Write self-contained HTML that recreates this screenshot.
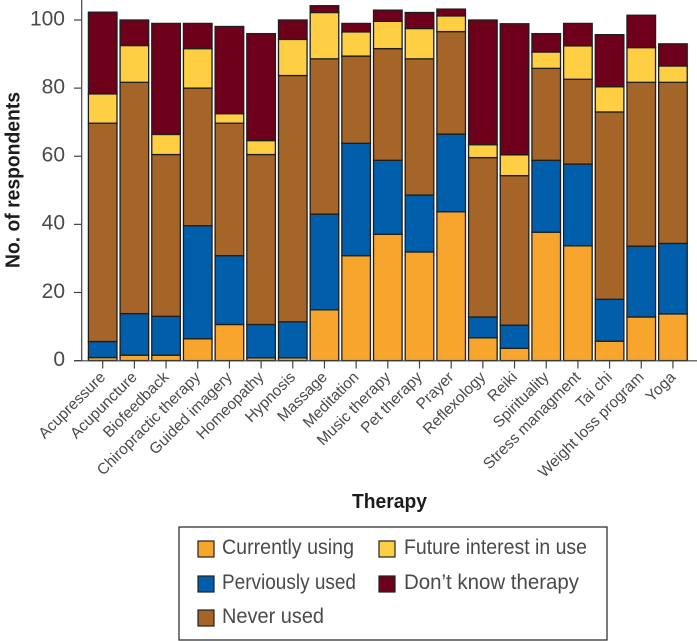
<!DOCTYPE html>
<html lang="en">
<head>
<meta charset="utf-8">
<title>Therapy use by respondents</title>
<style>
html,body{margin:0;padding:0;background:#fff;}
svg{display:block;font-family:"Liberation Sans",sans-serif;}
.tick-label{font-size:21px;fill:#4a4a4a;}
.cat-label{font-size:15.5px;fill:#4a4a4a;}
.axis-title{font-size:20px;font-weight:bold;fill:#1c1c1c;}
.legend-text{font-size:21px;fill:#4a4a4a;}
</style>
</head>
<body>
<svg id="chart" xmlns="http://www.w3.org/2000/svg" width="697" height="641" viewBox="0 0 697 641">
  <g id="bars"></g>
  <g id="axes"></g>
  <text class="axis-title" x="352" y="508" textLength="75" lengthAdjust="spacingAndGlyphs">Therapy</text>
  <text class="axis-title" transform="translate(19.5,268) rotate(-90)" textLength="176" lengthAdjust="spacingAndGlyphs">No. of respondents</text>
  <g>
    <rect x="179" y="527" width="428" height="113" fill="#fff" stroke="#333" stroke-width="1.3"/>
    <g>
      <rect x="198" y="541" width="16" height="16" fill="#f7a52c" stroke="#222" stroke-width="1.2"/>
      <text class="legend-text" x="222" y="554" textLength="132" lengthAdjust="spacingAndGlyphs">Currently using</text>
    </g>
    <g>
      <rect x="198" y="576" width="16" height="16" fill="#005eaa" stroke="#222" stroke-width="1.2"/>
      <text class="legend-text" x="222" y="589" textLength="134" lengthAdjust="spacingAndGlyphs">Perviously used</text>
    </g>
    <g>
      <rect x="198" y="610" width="16" height="16" fill="#a56428" stroke="#222" stroke-width="1.2"/>
      <text class="legend-text" x="222" y="623" textLength="102" lengthAdjust="spacingAndGlyphs">Never used</text>
    </g>
    <g>
      <rect x="379" y="541" width="16" height="16" fill="#fecf43" stroke="#222" stroke-width="1.2"/>
      <text class="legend-text" x="404" y="554" textLength="183" lengthAdjust="spacingAndGlyphs">Future interest in use</text>
    </g>
    <g>
      <rect x="379" y="576" width="16" height="16" fill="#6e001b" stroke="#222" stroke-width="1.2"/>
      <text class="legend-text" x="404" y="589" textLength="175" lengthAdjust="spacingAndGlyphs">Don’t know therapy</text>
    </g>
  </g>
</svg>
<script>
var categories = ["Acupressure","Acupuncture","Biofeedback","Chiropractic therapy","Guided imagery","Homeopathy","Hypnosis","Massage","Meditation","Music therapy","Pet therapy","Prayer","Reflexology","Reiki","Spirituality","Stress managment","Tai chi","Weight loss program","Yoga"];
var currentlyUsing = [0.9,1.6,1.6,6.4,10.6,0.8,0.8,14.9,30.8,37.1,31.9,43.7,6.7,3.6,37.7,33.7,5.7,12.8,13.7];
var previouslyUsed = [4.7,12.2,11.4,33.2,20.2,9.8,10.6,28.1,33,21.7,16.7,22.8,6.1,6.8,21.1,24,12.3,20.8,20.7];
var neverUsed = [64.1,67.9,47.5,40.4,38.9,49.9,72.3,45.6,25.6,32.8,40,30.1,46.8,43.9,27,24.9,55,48.1,47.3];
var futureInterest = [8.6,10.8,5.9,11.6,2.8,4.1,10.6,13.6,7.1,8,8.9,4.6,3.8,6.1,4.8,9.8,7.4,10.2,4.8];
var dontKnow = [24,7.5,32.6,7.4,25.6,31.4,5.7,2,2.5,3.3,4.7,2,36.6,38.5,5.4,6.6,15.3,9.5,6.5];
var yTicks = [0,20,40,60,80,100];

var NS = "http://www.w3.org/2000/svg";
var barsG = document.getElementById("bars");
var axesG = document.getElementById("axes");
var seriesList = [
  {key:"currently-using", values:currentlyUsing, color:"#f7a52c"},
  {key:"previously-used", values:previouslyUsed, color:"#005eaa"},
  {key:"never-used", values:neverUsed, color:"#a56428"},
  {key:"future-interest", values:futureInterest, color:"#fecf43"},
  {key:"dont-know", values:dontKnow, color:"#6e001b"}
];
function yScale(v){ return 360.6 - v * 3.406; }
function xCenter(i){ return 102.7 + i * 31.68; }
var barWidth = 28.6;

function make(tag, attrs, parent){
  var el = document.createElementNS(NS, tag);
  for (var k in attrs) el.setAttribute(k, attrs[k]);
  parent.appendChild(el);
  return el;
}

categories.forEach(function(cat, i){
  var cum = 0;
  seriesList.forEach(function(s){
    var v = s.values[i];
    var rect = make("rect", {
      x: xCenter(i) - barWidth / 2,
      y: yScale(cum + v),
      width: barWidth,
      height: yScale(cum) - yScale(cum + v),
      fill: s.color,
      stroke: "#1e1e1e",
      "stroke-width": 1.3
    }, barsG);
    
    
    cum += v;
  });
});

var yLine = make("line", {x1:81.7, y1:0, x2:81.7, y2:361, stroke:"#444", "stroke-width":1.2}, axesG);


var xLine = make("line", {x1:74, y1:360.8, x2:697, y2:360.8, stroke:"#444", "stroke-width":1.2}, axesG);



yTicks.forEach(function(t){
  var y = yScale(t);
  var tick = make("line", {x1:74, y1:y, x2:81.7, y2:y, stroke:"#444", "stroke-width":1.2}, axesG);
  
  
  var label = make("text", {x:65, y:y + 5.3, "text-anchor":"end", "class":"tick-label"}, axesG);
  
  
  label.textContent = t;
});

categories.forEach(function(cat, i){
  var x = xCenter(i);
  var tick = make("line", {x1:x, y1:361, x2:x, y2:368.5, stroke:"#444", "stroke-width":1.2}, axesG);
  
  
  var label = make("text", {"text-anchor":"end", "class":"cat-label",
    transform:"translate(" + (x + 3.5) + ",378) rotate(-45)"}, axesG);
  
  
  label.textContent = cat;
});
</script>
</body>
</html>
